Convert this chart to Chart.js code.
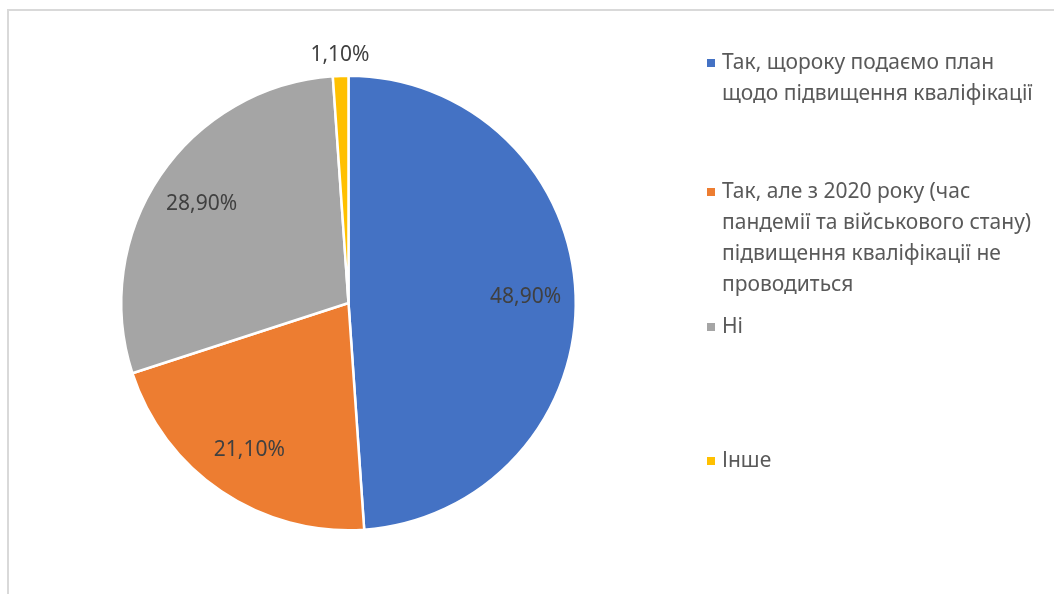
<!DOCTYPE html>
<html>
<head>
<meta charset="utf-8">
<script src="https://cdn.jsdelivr.net/npm/chart.js@4/dist/chart.umd.min.js"></script>
<style>
  html, body { margin: 0; padding: 0; background: #fff; }
  #wrap { position: relative; width: 1054px; height: 594px; }
</style>
</head>
<body>
<div id="wrap"><canvas id="grafico" width="1054" height="594"></canvas></div>
<script>
// Відповіді на питання про підвищення кваліфікації
const categorias = [
    ['Так, щороку подаємо план', 'щодо підвищення кваліфікації'],
    ['Так, але з 2020 року (час', 'пандемії та військового стану)', 'підвищення кваліфікації не', 'проводиться'],
    ['Ні'],
    ['Інше']
];
const valores = [48.9, 21.1, 28.9, 1.1];
const colores = ['#4472C4', '#ED7D31', '#A5A5A5', '#FFC000'];

// posiciones verticales de cada elemento de la leyenda (primera línea)
const leyendaY = [63, 192, 327, 461];
const FUENTE = '"Noto Sans", "Open Sans", sans-serif';

function formatoPct(v) {
    return v.toFixed(2).replace('.', ',') + '%';
}

// Marco gris del área del gráfico
const marcoPlugin = {
    id: 'marco',
    beforeDraw(chart) {
        const ctx = chart.ctx;
        ctx.save();
        ctx.strokeStyle = '#d9d9d9';
        ctx.lineWidth = 2;
        ctx.beginPath();
        ctx.moveTo(8, 600);
        ctx.lineTo(8, 10);
        ctx.lineTo(1060, 10);
        ctx.stroke();
        ctx.restore();
    }
};

// Etiquetas de porcentaje sobre los sectores
const etiquetasPlugin = {
    id: 'etiquetas',
    afterDatasetsDraw(chart) {
        const ctx = chart.ctx;
        const meta = chart.getDatasetMeta(0);
        ctx.save();
        ctx.font = '21px ' + FUENTE;
        ctx.fillStyle = '#404040';
        ctx.textAlign = 'center';
        ctx.textBaseline = 'middle';
        meta.data.forEach(function(arc, i) {
            const p = arc.getProps(['x', 'y', 'startAngle', 'endAngle', 'outerRadius'], true);
            const medio = (p.startAngle + p.endAngle) / 2;
            const factor = valores[i] < 3 ? 1.09 : 0.78;
            const x = p.x + Math.cos(medio) * p.outerRadius * factor;
            const y = p.y + Math.sin(medio) * p.outerRadius * factor;
            ctx.fillText(formatoPct(valores[i]), x, y);
        });
        ctx.restore();
    }
};

// Leyenda a la derecha
const leyendaPlugin = {
    id: 'leyendaDerecha',
    afterDraw(chart) {
        const ctx = chart.ctx;
        ctx.save();
        ctx.font = '21px ' + FUENTE;
        ctx.textBaseline = 'middle';
        categorias.forEach(function(lineas, i) {
            const y0 = leyendaY[i];
            ctx.fillStyle = colores[i];
            ctx.fillRect(707, y0 - 4, 8, 8);
            ctx.fillStyle = '#595959';
            lineas.forEach(function(texto, j) {
                ctx.fillText(texto, 722, y0 + j * 31);
            });
        });
        ctx.restore();
    }
};

const ctx = document.getElementById('grafico').getContext('2d');
window.graficoPastel = new Chart(ctx, {
    type: 'pie',
    data: {
        labels: categorias.map(l => l.join(' ')),
        datasets: [{
            data: valores,
            backgroundColor: colores,
            borderColor: '#ffffff',
            borderWidth: 2.5
        }]
    },
    options: {
        responsive: false,
        animation: false,
        layout: {
            padding: { left: 120, right: 477, top: 74, bottom: 62 }
        },
        plugins: {
            legend: { display: false },
            tooltip: { enabled: false }
        }
    },
    plugins: [marcoPlugin, etiquetasPlugin, leyendaPlugin]
});
</script>
</body>
</html>
